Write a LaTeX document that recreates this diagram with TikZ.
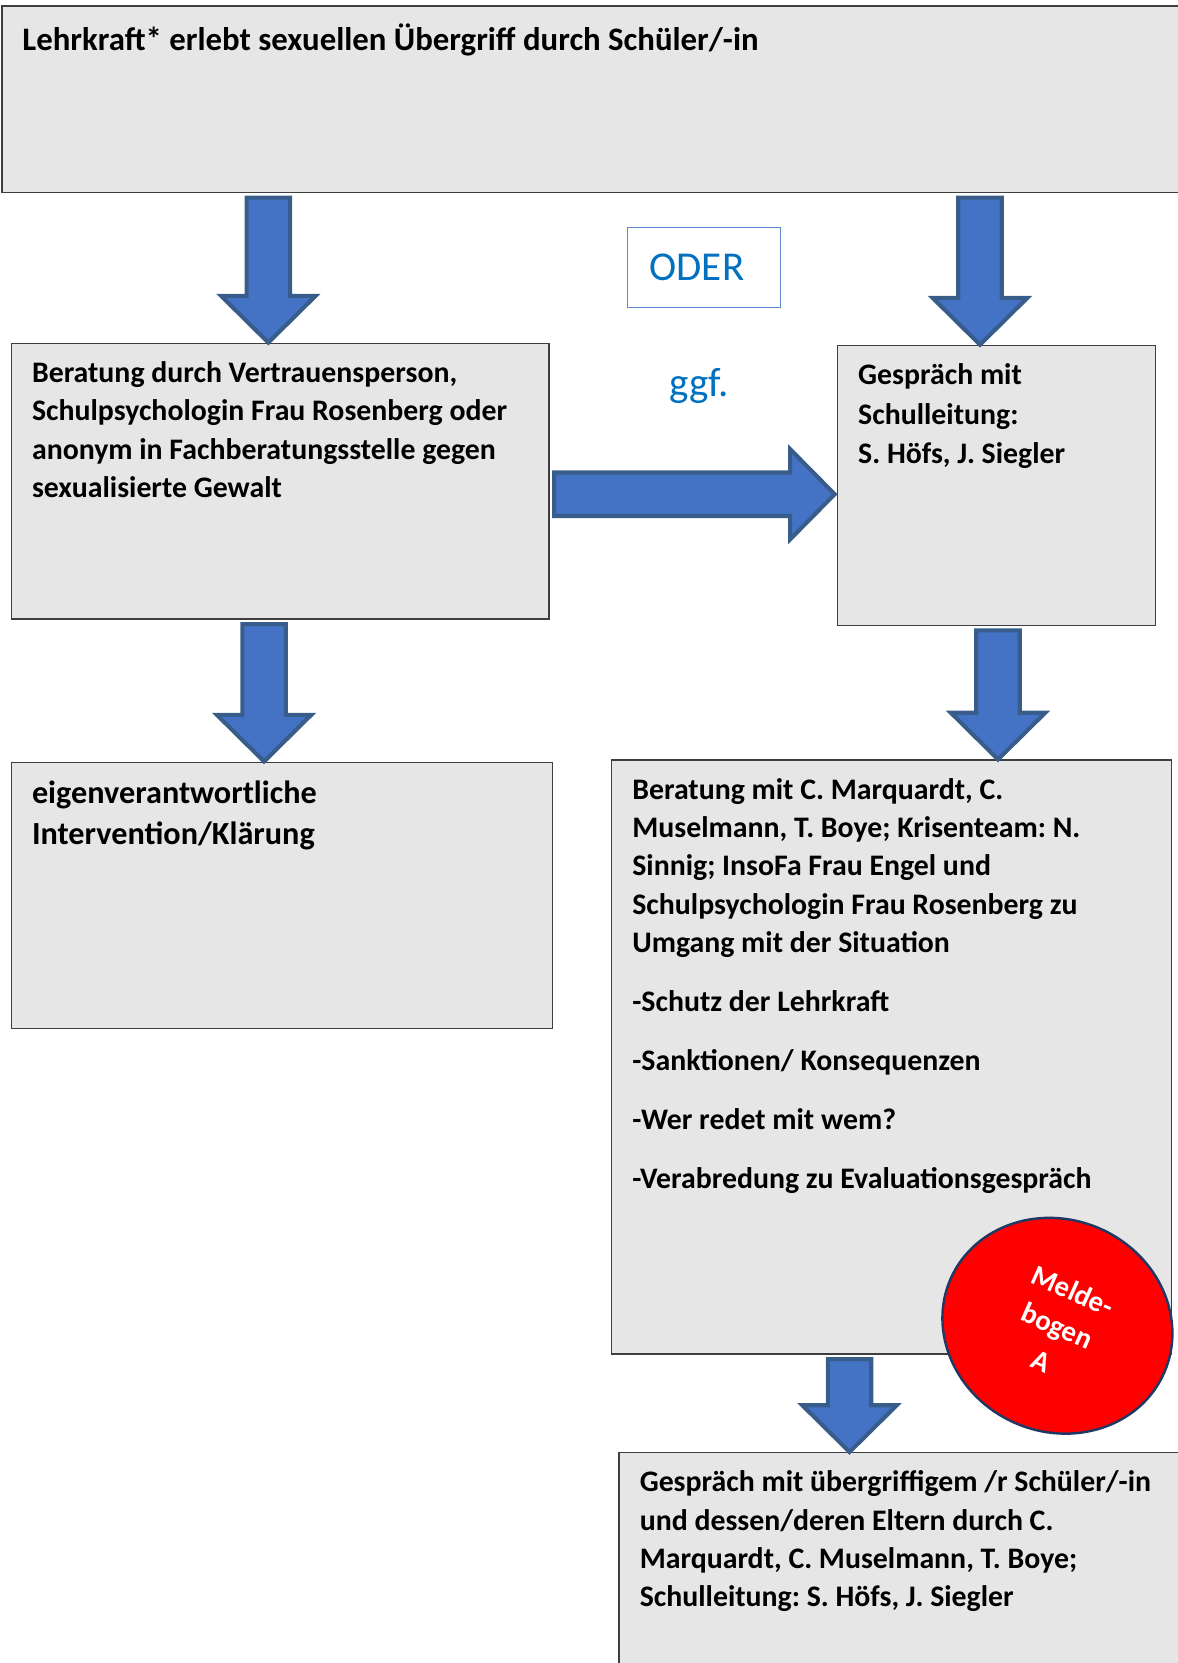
\documentclass[tikz,border=0pt]{standalone}
\usepackage{fontspec}
\setmainfont{Carlito}
\usetikzlibrary{calc,shapes.geometric}

\definecolor{boxfill}{HTML}{E6E6E6}
\definecolor{boxline}{HTML}{3F3F3F}
\definecolor{arrowfill}{HTML}{4472C4}
\definecolor{arrowline}{HTML}{385D8A}
\definecolor{odertext}{HTML}{0070C0}
\definecolor{oderline}{HTML}{5B87D0}
\definecolor{meldefill}{HTML}{FF0000}
\definecolor{meldeline}{HTML}{1F3864}

\newlength{\px}
\setlength{\px}{0.02cm}

\begin{document}
\frenchspacing
\begin{tikzpicture}[x=0.02cm, y=-0.02cm,
  box/.style={draw=boxline, fill=boxfill, line width=0.8pt, anchor=north west,
    inner xsep=19.5\px, inner ysep=11.5\px, font=\bfseries\fontsize{16}{20.6}\selectfont},
  blockarrow/.style={draw=arrowline, fill=arrowfill, line width=2.2pt, line join=miter},
  bluetext/.style={text=odertext, font=\fontsize{22}{26}\selectfont},
  melde/.style={ellipse, draw=meldeline, fill=meldefill, line width=1.3pt,
    minimum width=220\px, minimum height=200\px, text=white, align=center,
    font=\bfseries\fontsize{15.5}{20.6}\selectfont}]

\useasboundingbox (0,0) rectangle (1110,1568);

%top-aligned text in a box of given width and height
\newcommand{\boxtext}[3]{\parbox[t][#2\px][t]{#1\px}{\raggedright\strut #3}}

\node[box, inner ysep=14\px, font=\bfseries\fontsize{17.6}{22.5}\selectfont] (top) at (1,5)
  {\boxtext{1080}{148}{Lehrkraft* erlebt sexuellen Übergriff durch Schüler/-in}};

\node[box] (beratung) at (10,323) {\boxtext{468}{237}{Beratung durch Vertrauensperson,\\
  Schulpsychologin Frau Rosenberg oder\\
  anonym in Fachberatungsstelle gegen\\
  sexualisierte Gewalt}};

\node[box] (schulleitung) at (789,325) {\boxtext{261}{241}{Gespräch mit\\[1pt]
  Schulleitung:\\
  S. Höfs, J. Siegler}};

\node[box, font=\bfseries\fontsize{17.3}{22}\selectfont] (eigen) at (10,718)
  {\boxtext{471}{228}{eigenverantwortliche\\
  Intervention/Klärung}};

\node[box] (krisen) at (576,716) {\boxtext{489}{537}{Beratung mit C. Marquardt, C.\\
  Muselmann, T. Boye; Krisenteam: N.\\
  Sinnig; InsoFa Frau Engel und\\
  Schulpsychologin Frau Rosenberg zu\\
  Umgang mit der Situation\\[11pt]
  -Schutz der Lehrkraft\\[11pt]
  -Sanktionen/ Konsequenzen\\[11pt]
  -Wer redet mit wem?\\[11pt]
  -Verabredung zu Evaluationsgespräch}};

\node[box] (eltern) at (583,1369) {\boxtext{498}{188}{Gespräch mit übergriffigem /r Schüler/-in\\
  und dessen/deren Eltern durch C.\\
  Marquardt, C. Muselmann, T. Boye;\\
  Schulleitung: S. Höfs, J. Siegler}};

\node[bluetext, draw=oderline, line width=0.6pt, anchor=north west, minimum height=75\px,
  text width=102\px, inner xsep=21\px, align=left] (oder) at (591,214) {ODER};
\node[bluetext] (ggf) at (659,364) {ggf.};

\node[melde, rotate=-24] (melde) at (997,1250) {Melde-\\bogen\\A};

%block arrow macros
\newcommand{\blockdown}[2]{%
  \draw[blockarrow] ($(#1)+(-20.5,4)$) -- ($(#2)+(-20.5,-44)$) -- ($(#2)+(-44.5,-44)$)
    -- (#2) -- ($(#2)+(44.5,-44)$) -- ($(#2)+(20.5,-44)$) -- ($(#1)+(20.5,4)$) -- cycle;
}
\newcommand{\blockright}[2]{%
  \draw[blockarrow] ($(#1)+(4,-20.5)$) -- ($(#2)+(-44,-20.5)$) -- ($(#2)+(-44,-42.5)$)
    -- ($(#2)+(-2,0)$) -- ($(#2)+(-44,42.5)$) -- ($(#2)+(-44,20.5)$) -- ($(#1)+(4,20.5)$) -- cycle;
}

\coordinate (c1) at (253,0);
\coordinate (c2) at (924,0);
\coordinate (c3) at (0,466);
\coordinate (c4) at (249,0);
\coordinate (c5) at (941,0);
\coordinate (c6) at (801,0);

\blockdown{c1 |- top.south}{c1 |- beratung.north}
\blockdown{c2 |- top.south}{c2 |- schulleitung.north}
\blockright{beratung.east |- c3}{schulleitung.west |- c3}
\blockdown{c4 |- beratung.south}{c4 |- eigen.north}
\blockdown{c5 |- schulleitung.south}{c5 |- krisen.north}
\blockdown{c6 |- krisen.south}{c6 |- eltern.north}

\end{tikzpicture}
\end{document}
